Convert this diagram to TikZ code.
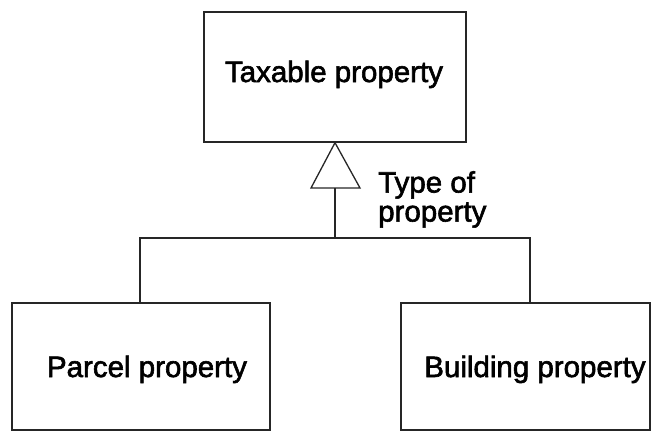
\documentclass[tikz,border=0pt]{standalone}
\usepackage{fontspec}
\setmainfont{Liberation Sans}[BoldFont=Liberation Sans, BoldFeatures={FakeBold=2}]
\begin{document}
\begin{tikzpicture}[x=1pt,y=-1pt,
  box/.style={draw=black!85, line width=1.4pt, inner sep=0pt},
  txt/.style={inner sep=0pt, font=\fontsize{29.5}{30}\selectfont\bfseries},
  conn/.style={draw=black!85, line width=1.3pt},
  lbl/.style={inner sep=0pt, align=left, font=\fontsize{29.5}{29}\selectfont\bfseries}]
\useasboundingbox (0,0) rectangle (652,432);
\node[box, minimum width=262pt, minimum height=130pt] (tax) at (335,77) {};
\node[box, minimum width=258pt, minimum height=127pt] (parcel) at (141,366.5) {};
\node[box, minimum width=249pt, minimum height=127pt] (building) at (525.5,366.5) {};
\node[txt, anchor=base] (taxt) at (334,82) {Taxable property};
\node[txt, anchor=base] (parcelt) at (147,377) {Parcel property};
\node[txt, anchor=base] (buildingt) at (535,377) {Building property};
\coordinate (apex) at (tax.south);
\coordinate (bl) at (311,188);
\coordinate (br) at (360,188);
\coordinate (base) at (335,188);
\coordinate (junc) at (335,238);
\draw[conn, line join=miter] (apex) -- (bl) -- (br) -- cycle;
\draw[conn] (base) -- (junc);
\draw[conn] (parcel.north -| 140,0) |- (junc) -| (building.north -| 530,0);
\node[lbl, anchor=north west] (type) at (378,171) {Type of\\property};
\end{tikzpicture}
\end{document}
